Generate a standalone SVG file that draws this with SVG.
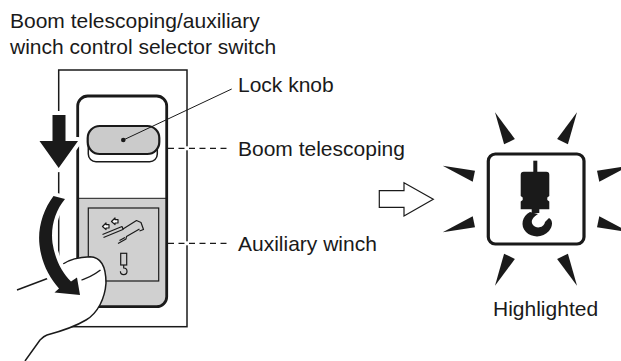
<svg xmlns="http://www.w3.org/2000/svg" width="621" height="361" viewBox="0 0 621 361">
  <defs>
    <style>
      .txt { font-family: "Liberation Sans", Arial, sans-serif; font-size: 21px; fill: #1a1a1a; }
      .ln { fill: none; stroke: #1a1a1a; }
      .dash { fill: none; stroke: #1a1a1a; stroke-width: 1.2; stroke-dasharray: 6 4.5; }
      .halo { fill: #1a1a1a; stroke: #fff; stroke-width: 8; stroke-linejoin: round; paint-order: stroke; }
      .ray { fill: #1a1a1a; }
    </style>
  </defs>
  <rect width="621" height="361" fill="#fff"/>

  <!-- title -->
  <g id="title">
    <text class="txt" x="10" y="28">Boom telescoping/auxiliary</text>
    <text class="txt" x="10" y="54">winch control selector switch</text>
  </g>

  <!-- selector switch -->
  <g id="switch">
    <rect class="ln" x="58.7" y="70" width="128.3" height="256.7" stroke-width="1.5"/>
    <path d="M77.7 198.3 H166.7 V296.7 a10 10 0 0 1 -10 10 H87.7 a10 10 0 0 1 -10 -10 Z" fill="#d0d0d0"/>
    <rect x="77.7" y="96" width="89" height="210.7" rx="10" fill="none" stroke="#1a1a1a" stroke-width="2.8"/>
    <line class="ln" x1="77.7" y1="198.3" x2="166.7" y2="198.3" stroke-width="1"/>
    <!-- lock knob recess and knob -->
    <path d="M88.3 140 V154 a7.7 7.7 0 0 0 7.7 7.7 H149.6 a7.7 7.7 0 0 0 7.7 -7.7 V140" fill="#fff" stroke="#1a1a1a" stroke-width="1.5"/>
    <rect x="87.7" y="126" width="71.6" height="28" rx="12" fill="#cbcbcb" stroke="#1a1a1a" stroke-width="2.2"/>
    <circle cx="123.3" cy="140" r="2.3" fill="#1a1a1a"/>
    <!-- selector panel -->
    <rect x="88.3" y="208" width="70.4" height="73" fill="#d0d0d0" stroke="#1a1a1a" stroke-width="1.2"/>
    <!-- boom telescoping icon -->
    <g class="ln" stroke-width="1.2" stroke-linejoin="round">
      <path d="M102.5 226.5 l3.5 -3.5 v1.6 h3 v3.4 h-3 v1.6 Z" fill="#fff"/>
      <path d="M111.5 221.5 l3.5 -3.5 v1.6 h3 v3.4 h-3 v1.6 Z" fill="#fff"/>
      <path d="M102.5 234.5 L122 226.5 L123 229 L136.5 220.5 L141 222.5 L143.5 229.5 L139.5 231"/>
      <path d="M103.5 237.5 L123.5 229.3"/>
      <path d="M118 243.5 L126 239 L126.5 236.5 L139.5 229"/>
      <path d="M119.5 240.5 L125 237.5"/>
    </g>
    <!-- hook icon -->
    <g class="ln" stroke-width="1.2">
      <rect x="120.7" y="253.3" width="6" height="11.7"/>
      <path d="M123.7 265 v3 a3.3 3.3 0 1 1 -3.3 3.3"/>
    </g>
  </g>

  <!-- finger -->
  <g id="finger">
    <path d="M17 290 L60 273 L63 264 C70 259 80 257 90 256.7 C100 257 106 265 106 283 C105 298 98 313 86 320 C76 326 62 331 47 335 C44 336 42 338 40 340 L25 361 L0 361 L0 300 Z" fill="#fff"/>
    <path class="ln" stroke-width="1.5" d="M63 264 C70 259 80 257 90 256.7 C100 257 106 265 106 283 C105 298 98 313 86 320 C76 326 62 331 47 335 C44 336 42 338 40 340 L25 361"/>
    <path class="ln" stroke-width="1.5" d="M17 290 L62 273"/>
    <path class="ln" stroke-width="1.5" d="M78 281 Q90 278 100.5 270"/>
  </g>

  <!-- motion arrows -->
  <g id="arrows">
    <path class="halo" d="M52.5 115 H65.5 V141 H78 L58.7 168 L39.5 141 H52.5 Z"/>
    <path class="halo" d="M53.5 196 C43 210 37.5 228 39.5 245 C41.5 263 49 277 59 288.5 L54.5 292.5 L80 295 L77 277.5 L71 281.5 C61.5 272 55 259 52.5 243 C50.5 227 55 211 65 199 Z"/>
  </g>

  <!-- leaders -->
  <g id="connectors">
    <line class="ln" x1="123.3" y1="140" x2="231.7" y2="89" stroke-width="1"/>
    <line x1="183" y1="148.3" x2="191" y2="148.3" stroke="#fff" stroke-width="4"/>
    <line x1="183" y1="243.3" x2="191" y2="243.3" stroke="#fff" stroke-width="4"/>
    <line class="dash" x1="168" y1="148.3" x2="227" y2="148.3"/>
    <line class="dash" x1="168" y1="243.3" x2="227" y2="243.3"/>
    <path d="M379.3 190.7 H404 V182.7 L433.3 199.3 L404 216 V207.3 H379.3 Z" fill="#fff" stroke="#1a1a1a" stroke-width="1.2"/>
  </g>

  <!-- labels -->
  <g id="labels">
    <text class="txt" x="238" y="92">Lock knob</text>
    <text class="txt" x="238" y="156">Boom telescoping</text>
    <text class="txt" x="238" y="251">Auxiliary winch</text>
  </g>

  <!-- highlighted indicator -->
  <g id="indicator">
    <polygon class="ray" points="495,112.3 514.9,139 504.1,144.3"/>
    <polygon class="ray" points="577,112.3 557.1,139 567.9,144.3"/>
    <polygon class="ray" points="442.7,165.7 475,170.7 472.7,181.7"/>
    <polygon class="ray" points="442.7,232.3 475,227.3 472.7,216.3"/>
    <polygon class="ray" points="629.3,165.7 597,170.7 599.3,181.7"/>
    <polygon class="ray" points="629.3,232.3 597,227.3 599.3,216.3"/>
    <polygon class="ray" points="495,285.7 514.9,259 504.1,253.7"/>
    <polygon class="ray" points="577,285.7 557.1,259 567.9,253.7"/>
    <rect x="488.3" y="154" width="95.7" height="90" rx="7" fill="none" stroke="#1a1a1a" stroke-width="3.2"/>
    <rect x="533.3" y="160.7" width="4" height="12" fill="#1a1a1a"/>
    <path d="M523.7 171.7 H546.3 a3 3 0 0 1 3 3 V196 l-2 1.5 v2.5 l2 1.5 V209.3 H520.7 V201.5 l2 -1.5 v-2.5 l-2 -1.5 V174.7 a3 3 0 0 1 3 -3 Z" fill="#1a1a1a"/>
    <rect x="531.7" y="209" width="7.6" height="4" fill="#1a1a1a"/>
    <path d="M530 212 C522 216 520 226 526 232 C532 238 543 238 549 231 C553 226 553 220 549 218 L545 222 C544 228 536 229 533 225 C530 221 533 217 538 214 Z" fill="#1a1a1a"/>
    <text class="txt" x="493" y="316">Highlighted</text>
  </g>
</svg>
